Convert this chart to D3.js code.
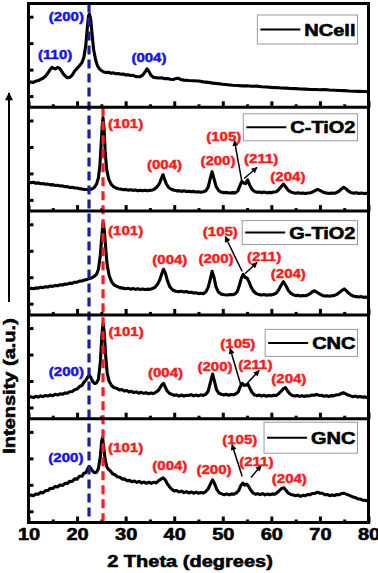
<!DOCTYPE html>
<html><head><meta charset="utf-8">
<script src="https://cdn.jsdelivr.net/npm/d3@7"></script>
<style>
body{margin:0;background:#fff}
svg{display:block}
text{font-family:"Liberation Sans",Arial,sans-serif;font-weight:bold}
</style>
</head><body><svg id="chart" width="378" height="573"></svg>
<script>
// ---------------- data ----------------
const samples = ["NCell", "C-TiO2", "G-TiO2", "CNC", "GNC"];

// 2θ (degrees), intensity (a.u., % of panel height)
const nCell = [[10,23.5],[10.5,24.3],[11,24],[11.5,25.2],[12,25.8],[12.5,27],[13,28],[13.5,30],[14,33],[14.4,36],[14.8,38.5],[15.2,37.5],[15.6,37],[16,38.5],[16.4,37.5],[16.8,35],[17.2,32],[17.6,30],[18,28.5],[18.5,28.8],[19,31],[19.5,35],[20,37.5],[20.5,40],[21,43],[21.4,48],[21.8,60],[22.1,76],[22.35,88],[22.55,90],[22.8,85],[23.1,70],[23.4,56],[23.8,46],[24.2,40],[24.6,37],[25,35.5],[25.5,34],[26,33.5],[26.5,33.8],[27,32.8],[27.5,33.2],[28,32.3],[28.5,32.6],[29,31.8],[29.5,32],[30,31.2],[30.5,31.4],[31,30.6],[31.5,30.8],[32,29.8],[32.5,29.5],[33,29.5],[33.5,31],[34,34],[34.4,37],[34.8,34.5],[35.2,31],[35.7,29],[36.2,28.6],[36.8,28.2],[37.4,28.4],[38,27.6],[38.6,27.8],[39.2,27],[39.8,26.8],[40.3,27.6],[40.8,28],[41.3,26.8],[42,26.2],[43,25.8],[44,25.6],[45,25.4],[46,24.5],[47,24],[48,23.3],[49,22.8],[50,22.2],[51,21.8],[52,21.2],[53,21],[54,20.6],[55,20.8],[56,20.3],[57,20.4],[58,19.8],[59,19.6],[60,19.2],[61,19],[62,18.6],[63,18.5],[64,18.1],[65,18],[66,17.6],[67,17.5],[68,17.2],[69,17.2],[70,16.9],[71,17],[72,16.6],[73,16.4],[74,16.2],[75,16.1],[76,15.7],[77,15.5],[78,15.3],[79,15.2],[80,15]];

const cTiO2 = [[10,28],[10.5,27.3],[11,27.8],[11.5,26.8],[12,27.2],[12.5,26.4],[13,26.6],[13.5,25.8],[14,26],[14.5,25.3],[15,25.5],[15.5,24.6],[16,24.9],[16.5,24.2],[17,24.3],[17.5,23.5],[18,23.6],[18.5,22.8],[19,22.9],[19.5,22.2],[20,22.3],[20.5,21.5],[21,21.4],[21.5,20.8],[22,20.8],[22.5,20.6],[23,21.2],[23.5,22.5],[24,26],[24.4,32],[24.7,44],[25,68],[25.2,84],[25.35,90],[25.55,80],[25.8,56],[26.1,40],[26.5,31],[27,26],[27.5,23.5],[28,22.3],[28.5,21.5],[29,21.2],[29.5,20.6],[30,20.9],[30.5,20.2],[31,20.6],[31.5,20],[32,20.3],[32.5,19.6],[33,20.1],[33.5,19.6],[34,20],[34.5,19.5],[35,20],[35.5,20.3],[36,21.5],[36.5,23.5],[37,27],[37.4,32],[37.7,35],[38,31],[38.4,26],[38.9,22.5],[39.5,20.8],[40,20],[40.5,19.5],[41,19.7],[41.5,19],[42,19.5],[42.5,18.8],[43,19.2],[43.5,18.6],[44,19],[44.5,18.4],[45,18.6],[45.5,18.2],[46,18.6],[46.5,19.5],[47,23],[47.4,31],[47.8,38],[48.2,31],[48.6,24],[49.1,20],[49.6,18.5],[50.2,17.8],[50.8,18],[51.4,17.4],[52,17.8],[52.6,17.6],[53.1,19.5],[53.5,24],[53.9,28.5],[54.3,27],[54.7,26.5],[55.1,30],[55.5,25.5],[56,21],[56.5,19],[57,18.2],[57.5,18.4],[58,17.8],[58.5,18.3],[59,17.6],[59.5,18],[60,17.8],[60.5,18.4],[61,18.6],[61.5,20.5],[62,23.5],[62.5,26],[63,23],[63.5,20],[64,18.5],[64.5,17.6],[65,17.2],[65.5,17.6],[66,17.1],[66.5,17.5],[67,17],[67.5,17.4],[68,17.6],[68.5,18.4],[69,19.8],[69.5,21],[70,20],[70.5,18.6],[71,17.6],[71.5,17.3],[72,17.1],[72.5,17.4],[73,17.2],[73.5,18],[74,19.5],[74.5,21.5],[74.9,23],[75.3,21.8],[75.8,19.5],[76.3,18],[77,17.3],[77.5,17.6],[78,17],[78.5,17.4],[79,16.9],[79.5,17.2],[80,16.8]];

const gTiO2 = [[10,25],[10.5,25.6],[11,25.2],[11.5,26],[12,25.8],[12.5,26.6],[13,26.3],[13.5,27.2],[14,26.9],[14.5,27.8],[15,27.5],[15.5,28.4],[16,28.1],[16.5,29],[17,28.8],[17.5,29.8],[18,29.6],[18.5,30.6],[19,30.4],[19.5,31.5],[20,31.5],[20.5,32.5],[21,32.6],[21.5,33.6],[22,34],[22.5,35],[23,35.6],[23.5,37],[24,39],[24.4,44],[24.8,58],[25.1,76],[25.35,89],[25.6,82],[25.9,64],[26.2,48],[26.6,38],[27.1,32],[27.6,29],[28.2,27.5],[28.8,26.3],[29.4,25.8],[30,25.2],[30.5,25.6],[31,24.8],[31.5,25.4],[32,24.6],[32.5,25.1],[33,24.4],[33.5,25],[34,24.4],[34.5,24.8],[35,24.6],[35.5,25.4],[36,26.4],[36.5,29],[37,33.5],[37.4,39],[37.8,44],[38.2,40],[38.6,33],[39.1,27],[39.7,24],[40.3,22.8],[41,22.4],[41.5,22.8],[42,22.1],[42.5,22.6],[43,21.6],[43.5,21.9],[44,21.1],[44.5,21.4],[45,20.5],[45.5,20.9],[46,20.5],[46.5,22],[47,26.5],[47.4,34],[47.8,42],[48.2,36],[48.6,27],[49.1,22],[49.7,20],[50.3,19.4],[51,19.2],[51.5,19.6],[52,19.4],[52.5,20.2],[53,22.5],[53.4,28],[53.8,35],[54.2,39],[54.6,36],[55,35.5],[55.4,32],[55.8,27],[56.3,23],[56.9,20.5],[57.5,19.5],[58,19.2],[58.5,19.6],[59,19],[59.5,19.4],[60,19.3],[60.5,19.8],[61,21],[61.5,24],[62,28.5],[62.5,32],[63,28],[63.5,23.5],[64,21],[64.5,19.4],[65,18.6],[65.5,18.9],[66,18.2],[66.5,18.6],[67,18.4],[67.5,19.2],[68,20.5],[68.5,22.5],[68.9,23.2],[69.4,21.8],[70,20],[70.5,18.8],[71,18.2],[71.5,18.5],[72,18],[72.5,18.4],[73,18.8],[73.5,19.8],[74,21.5],[74.5,23.5],[75,25],[75.4,23.5],[75.9,21],[76.4,19.2],[77,18],[77.5,17.6],[78,17.2],[78.5,17.6],[79,16.9],[79.5,17.2],[80,16.8]];

const cnc = [[10,20],[10.5,21.2],[11,20.3],[11.5,21.6],[12,20.8],[12.5,22],[13,21.2],[13.5,22.4],[14,21.8],[14.5,22.9],[15,22.2],[15.5,23.5],[16,22.8],[16.5,24],[17,23.5],[17.5,24.8],[18,24.6],[18.5,26],[19,26.2],[19.5,27.8],[20,28.5],[20.5,31],[21,32],[21.4,35],[21.8,37],[22.2,40],[22.5,42],[22.8,40],[23.2,36],[23.6,34],[24,34.5],[24.4,38],[24.8,55],[25.1,80],[25.35,92],[25.6,83],[25.9,60],[26.2,44],[26.6,36],[27.1,32],[27.6,30],[28.2,29.2],[28.7,27.6],[29.2,28.2],[29.7,26.6],[30.2,27.2],[30.7,25.8],[31.2,26.4],[31.7,25.2],[32.2,25.8],[32.7,24.6],[33.2,25.4],[33.7,24.4],[34.2,25],[34.7,24],[35.2,24.8],[35.7,24.2],[36.2,25.5],[36.7,27],[37.1,30],[37.5,33],[37.8,34],[38.1,31],[38.5,27],[39,24.5],[39.5,23.5],[40,22.4],[40.5,23],[41,21.8],[41.5,22.8],[42,21.8],[42.5,22.6],[43,22.4],[43.5,23.2],[44,22],[44.5,22.8],[45,22],[45.5,23],[46,22.4],[46.5,23.5],[47,26.5],[47.4,34],[47.9,43],[48.3,36],[48.7,28],[49.2,24.5],[49.7,23.6],[50.2,22.8],[50.7,23.6],[51.2,22.6],[51.7,23.4],[52.2,23],[52.7,24],[53.2,26],[53.6,31],[54,34],[54.4,32],[54.8,32.5],[55.2,33],[55.6,29],[56,25.5],[56.5,23],[57,22.2],[57.5,22.8],[58,21.8],[58.5,22.6],[59,21.6],[59.5,22.4],[60,21.8],[60.5,22.6],[61,22.4],[61.5,24],[62,26.5],[62.5,29],[62.9,30],[63.3,27],[63.8,24],[64.3,22.4],[64.8,21.8],[65.3,22.4],[65.8,21.5],[66.3,22.2],[66.8,21.4],[67.3,22.2],[67.8,21.8],[68.3,22.8],[68.8,22.6],[69.3,23.4],[69.8,22.4],[70.3,22.6],[70.8,21.6],[71.3,22.2],[71.8,21.4],[72.3,22.2],[72.8,22],[73.3,22.8],[73.8,23],[74.3,24],[74.8,25],[75.3,24],[75.8,22.8],[76.3,22],[76.8,21.2],[77.3,21.8],[77.8,20.8],[78.3,21.4],[78.8,20.6],[79.3,21],[80,20]];

const gnc = [[10,25],[10.5,26.5],[11,25.8],[11.5,27.5],[12,27.2],[12.5,29],[13,28.6],[13.5,30.8],[14,30.8],[14.5,33],[15,32.8],[15.5,34.8],[16,34.2],[16.5,36.2],[17,35.6],[17.5,37.8],[18,37.5],[18.5,39.8],[19,39.5],[19.5,42],[20,41.8],[20.5,44.5],[21,44.5],[21.4,47.5],[21.8,48],[22.2,52],[22.5,54],[22.8,52.5],[23.2,49.5],[23.6,48],[24,48.5],[24.4,52],[24.8,64],[25.05,78],[25.25,82],[25.5,72],[25.8,60],[26.1,54],[26.5,51],[26.9,49.5],[27.3,47],[27.8,46],[28.3,44],[28.8,43.5],[29.3,41.8],[29.8,42],[30.3,40.2],[30.8,40.6],[31.3,39.2],[31.8,40],[32.3,38.6],[32.8,39.6],[33.3,38.2],[33.8,39],[34.3,37.8],[34.8,38.8],[35.3,37.6],[35.8,38.8],[36.3,38.2],[36.8,40.4],[37.2,41.5],[37.7,43],[38.1,41.5],[38.5,38],[39,34.5],[39.5,32],[40,30.5],[40.5,30.8],[41,29.4],[41.5,30.2],[42,28.8],[42.5,29.8],[43,28.4],[43.5,29.4],[44,28.2],[44.5,29.2],[45,28.2],[45.5,28.8],[46,28.4],[46.5,29.8],[47,32.5],[47.5,37.5],[47.9,41],[48.3,37.5],[48.8,31.5],[49.3,28.5],[49.8,27.6],[50.3,26.8],[50.8,27.6],[51.3,26.6],[51.8,27.6],[52.3,27.2],[52.8,28.6],[53.3,31],[53.7,35.5],[54.1,38],[54.5,36],[54.9,37],[55.3,35],[55.7,31.5],[56.2,28.5],[56.7,27.2],[57.2,27.8],[57.7,26.8],[58.2,27.8],[58.7,26.6],[59.2,27.4],[59.7,26.8],[60.2,27.6],[60.7,27.2],[61.2,28.8],[61.7,31],[62.2,33],[62.6,33.5],[63,31],[63.5,28.2],[64,27],[64.5,26.4],[65,25.8],[65.5,26.4],[66,25.2],[66.5,26.2],[67,25.8],[67.5,27],[68,26.8],[68.5,28],[69,28],[69.5,29.2],[70,28.2],[70.5,28.2],[71,26.8],[71.5,27],[72,25.8],[72.5,26.6],[73,26],[73.5,27],[74,26.8],[74.5,28],[74.9,28.2],[75.3,27.6],[75.8,26.6],[76.3,25.6],[76.8,24.6],[77.3,24],[77.8,22.8],[78.3,22.6],[78.8,21.5],[79.3,21.4],[80,20.5]];

const xTickLabels = [10, 20, 30, 40, 50, 60, 70, 80];
const xMinorTicks = [15, 25, 35, 45, 55, 65, 75];
const yTicks = [10.8, 36.3, 61.8, 87.3];

// reference positions (2θ) of cellulose (200) and anatase (101)
const refLines = [
  {deg: 22.46, color: "#1c1c9c", firstPanel: 0},
  {deg: 25.34, color: "#ff1c1c", firstPanel: 1}
];

// peak labels: panel index, text, 2θ, intensity, kind
const peakLabels = [
  {p:0, t:"(200)", x:17.8, y:87.5, c:"b"},
  {p:0, t:"(110)", x:15.5, y:50.9, c:"b"},
  {p:0, t:"(004)", x:34.8, y:48.0, c:"b"},
  {p:1, t:"(101)", x:30.0, y:84.4, c:"r"},
  {p:1, t:"(004)", x:38.0, y:44.9, c:"r"},
  {p:1, t:"(200)", x:49.0, y:48.7, c:"r"},
  {p:1, t:"(105)", x:50.2, y:71.9, c:"r"},
  {p:1, t:"(211)", x:57.9, y:50.7, c:"r"},
  {p:1, t:"(204)", x:63.4, y:33.3, c:"r"},
  {p:2, t:"(101)", x:30.0, y:81.3, c:"r"},
  {p:2, t:"(004)", x:39.1, y:53.4, c:"r"},
  {p:2, t:"(105)", x:49.5, y:80.3, c:"r"},
  {p:2, t:"(200)", x:48.6, y:54.3, c:"r"},
  {p:2, t:"(211)", x:58.5, y:56.3, c:"r"},
  {p:2, t:"(204)", x:63.5, y:39.9, c:"r"},
  {p:3, t:"(101)", x:30.1, y:84.0, c:"r"},
  {p:3, t:"(200)", x:17.8, y:45.5, c:"b"},
  {p:3, t:"(004)", x:38.2, y:44.5, c:"r"},
  {p:3, t:"(105)", x:53.1, y:72.4, c:"r"},
  {p:3, t:"(200)", x:48.4, y:50.3, c:"r"},
  {p:3, t:"(211)", x:56.7, y:52.2, c:"r"},
  {p:3, t:"(204)", x:63.6, y:38.7, c:"r"},
  {p:4, t:"(200)", x:17.7, y:62.6, c:"b"},
  {p:4, t:"(101)", x:30.0, y:72.3, c:"r"},
  {p:4, t:"(004)", x:39.1, y:54.9, c:"r"},
  {p:4, t:"(105)", x:53.5, y:80.0, c:"r"},
  {p:4, t:"(211)", x:56.9, y:58.8, c:"r"},
  {p:4, t:"(200)", x:48.2, y:51.1, c:"r"},
  {p:4, t:"(204)", x:63.7, y:42.4, c:"r"}
];

// arrows: panel, from (2θ, I) to (2θ, I)
const peakArrows = [
  {p:1, x1:54.0, y1:26.6, x2:52.4, y2:68.0},
  {p:1, x1:54.4, y1:31.4, x2:57.05, y2:42.0},
  {p:2, x1:54.0, y1:41.8, x2:50.5, y2:75.5},
  {p:2, x1:54.6, y1:39.9, x2:57.05, y2:50.5},
  {p:3, x1:53.8, y1:31.0, x2:51.5, y2:67.6},
  {p:3, x1:54.6, y1:32.0, x2:57.5, y2:46.4},
  {p:4, x1:54.0, y1:44.3, x2:51.9, y2:75.1},
  {p:4, x1:55.8, y1:43.4, x2:57.9, y2:54.9}
];

// ---------------- layout / style ----------------
const series = [nCell, cTiO2, gTiO2, cnc, gnc];
const plotLeft = 28.5, plotRight = 368.5, plotTop = 3.5, plotBottom = 522.5;
const legendTop = [11.5, 6.5, 9.5, 14.5, 3.5];
const legendH = [29, 27, 24, 27, 31];
const STRETCH = 1.25;
const labelColors = {b: "#1414f0", r: "#ff1a1a"};

const svg = d3.select("#chart");
const x = d3.scaleLinear().domain([10, 80]).range([plotLeft, plotRight]);
const band = d3.scaleBand().domain(samples).range([plotTop, plotBottom]);

function stretch(sel) {
  sel.each(function () {
    const w = this.getComputedTextLength();
    this.setAttribute("textLength", w * STRETCH);
    this.setAttribute("lengthAdjust", "spacingAndGlyphs");
  });
}
function heavy(sel, color) {
  sel.attr("stroke", color || null).attr("stroke-width", 0.55).attr("paint-order", "stroke");
}

const defs = svg.append("defs");
defs.append("marker").attr("id", "ah").attr("viewBox", "0 0 10 10")
  .attr("refX", 9).attr("refY", 5).attr("markerWidth", 7).attr("markerHeight", 6)
  .attr("markerUnits", "userSpaceOnUse").attr("orient", "auto")
  .append("path").attr("d", "M0,0L10,5L0,10Z").attr("fill", "#000");
defs.append("marker").attr("id", "ahBig").attr("viewBox", "0 0 10 10")
  .attr("refX", 9).attr("refY", 5).attr("markerWidth", 11).attr("markerHeight", 8)
  .attr("markerUnits", "userSpaceOnUse").attr("orient", "auto")
  .append("path").attr("d", "M0,0L10,5L0,10Z").attr("fill", "#000");

const yScales = [];
samples.forEach((name, i) => {
  const top = band(name), bottom = top + band.bandwidth();
  const y = d3.scaleLinear().domain([0, 100]).range([bottom, top]);
  yScales.push(y);
  const g = svg.append("g");

  // ticks (inward)
  const bx = g.append("g").attr("transform", `translate(0,${bottom})`)
    .call(d3.axisBottom(x).tickValues(xTickLabels).tickSize(-6).tickFormat(""));
  const bm = g.append("g").attr("transform", `translate(0,${bottom})`)
    .call(d3.axisBottom(x).tickValues(xMinorTicks).tickSize(-3).tickFormat(""));
  const ly = g.append("g").attr("transform", `translate(${plotLeft},0)`)
    .call(d3.axisLeft(y).tickValues(yTicks).tickSize(-5).tickFormat(""));
  [bx, bm, ly].forEach(a => {
    a.select(".domain").remove();
    a.selectAll(".tick line").attr("stroke", "#000").attr("stroke-width", 3);
  });

  // curve
  g.append("path").datum(series[i])
    .attr("d", d3.line().x(d => x(d[0])).y(d => y(d[1])))
    .attr("fill", "none").attr("stroke", "#000").attr("stroke-width", 3.1)
    .attr("stroke-linejoin", "round");

  // legend
  const lt = top + legendTop[i], lh = legendH[i];
  const lg = g.append("g");
  const txt = lg.append("text").attr("x", 355.5).attr("y", lt + lh / 2 + 6)
    .attr("text-anchor", "end").attr("font-size", 16).attr("fill", "#000").text(name);
  stretch(txt);
  heavy(txt, "#000");
  const tw = +txt.attr("textLength");
  const tx = 355.5 - tw;
  lg.insert("rect", "text").attr("x", tx - 47).attr("y", lt).attr("width", 357.5 - (tx - 47)).attr("height", lh)
    .attr("fill", "#fff").attr("stroke", "#9a9a9a").attr("stroke-width", 1);
  lg.append("line").attr("x1", tx - 44).attr("x2", tx - 4)
    .attr("y1", lt + lh / 2).attr("y2", lt + lh / 2)
    .attr("stroke", "#000").attr("stroke-width", 2);
});

// peak arrows
peakArrows.forEach(a => {
  const y = yScales[a.p];
  svg.append("line").attr("x1", x(a.x1)).attr("y1", y(a.y1)).attr("x2", x(a.x2)).attr("y2", y(a.y2))
    .attr("stroke", "#000").attr("stroke-width", 1.5).attr("marker-end", "url(#ah)");
});

// peak labels
const pl = svg.append("g").selectAll("text").data(peakLabels).join("text")
  .attr("x", d => x(d.x)).attr("y", d => yScales[d.p](d.y)).attr("dy", "0.36em")
  .attr("text-anchor", "middle").attr("font-size", 12)
  .attr("fill", d => labelColors[d.c]).text(d => d.t);
stretch(pl);
pl.attr("stroke", d => labelColors[d.c]).attr("stroke-width", 0.45);

// dashed reference lines
refLines.forEach(r => {
  svg.append("line").attr("x1", x(r.deg)).attr("x2", x(r.deg))
    .attr("y1", band(samples[r.firstPanel])).attr("y2", plotBottom)
    .attr("stroke", r.color).attr("stroke-width", 3.2).attr("stroke-dasharray", "9,5");
});

// frame and separators
svg.append("rect").attr("x", plotLeft).attr("y", plotTop)
  .attr("width", plotRight - plotLeft).attr("height", plotBottom - plotTop)
  .attr("fill", "none").attr("stroke", "#000").attr("stroke-width", 3);
samples.slice(1).forEach(s => {
  svg.append("line").attr("x1", plotLeft).attr("x2", plotRight)
    .attr("y1", band(s)).attr("y2", band(s)).attr("stroke", "#000").attr("stroke-width", 3);
});

// x tick labels
const xa = svg.append("g").attr("transform", `translate(0,${plotBottom})`)
  .call(d3.axisBottom(x).tickValues(xTickLabels).tickSize(0).tickPadding(6).tickFormat(d3.format("d")));
xa.select(".domain").remove();
xa.attr("font-family", null).attr("font-size", null);
const xt = xa.selectAll(".tick text").attr("font-size", 16).attr("fill", "#000");
stretch(xt);
heavy(xt, "#000");

// axis titles
const xTitle = svg.append("text").attr("x", 190).attr("y", 567).attr("text-anchor", "middle")
  .attr("font-size", 16).attr("fill", "#000").text("2 Theta (degrees)");
stretch(xTitle);
heavy(xTitle, "#000");
const yTitle = svg.append("text").attr("transform", "translate(9,386) rotate(-90)")
  .attr("text-anchor", "middle").attr("dy", "0.36em")
  .attr("font-size", 16).attr("fill", "#000").text("Intensity (a.u.)");
stretch(yTitle);
heavy(yTitle, "#000");
svg.append("line").attr("x1", 9).attr("x2", 9).attr("y1", 302).attr("y2", 93)
  .attr("stroke", "#000").attr("stroke-width", 2).attr("marker-end", "url(#ahBig)");
</script>
</body></html>
